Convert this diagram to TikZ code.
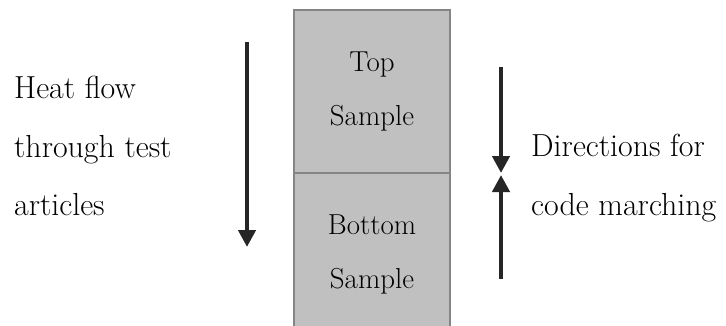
\documentclass[tikz,border=0pt]{standalone}
\usetikzlibrary{arrows.meta}
\definecolor{boxfill}{HTML}{C0C0C0}
\definecolor{boxline}{HTML}{858585}
\definecolor{arrowc}{HTML}{262626}
\tikzset{
  sample/.style={draw=boxline, fill=boxfill, line width=1.5bp, minimum width=156bp, inner sep=0pt, align=center, font=\fontsize{29}{54}\selectfont},
  label/.style={align=left, anchor=west, inner sep=0pt, font=\fontsize{32}{59}\selectfont},
  flow/.style={draw=arrowc, line width=4.5bp, -{Triangle[width=17bp,length=17bp]}}
}
\begin{document}
\begin{tikzpicture}[x=1bp,y=-1bp]
\useasboundingbox (0,0) rectangle (726,325);
\clip (0,0) rectangle (726,325);
\node[sample, minimum height=163bp] (top) at (372,91.5) {Top\\Sample};
\node[sample, minimum height=163bp] (bottom) at (372,254.5) {Bottom\\Sample};
\node[label] (heat) at (14,146) {Heat flow\\through test\\articles};
\node[label] (dir) at (531,178) {Directions for\\code marching};
\coordinate (hs) at (247,42);
\coordinate (he) at (247,247);
\coordinate (ds) at (501,67);
\coordinate (meet1) at (501,173);
\coordinate (meet2) at (501,175);
\coordinate (us) at (501,279);
\draw[flow] (hs) -- (he);
\draw[flow] (ds) -- (meet1);
\draw[flow] (us) -- (meet2);
\end{tikzpicture}
\end{document}
